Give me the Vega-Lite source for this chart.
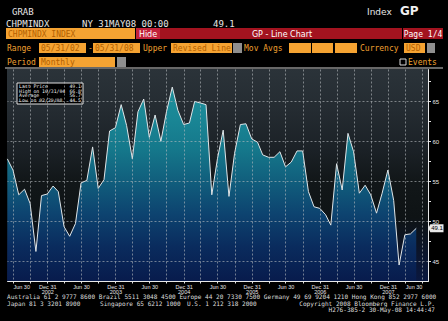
{
  "$schema": "https://vega.github.io/schema/vega-lite/v6.json",
  "width": 421,
  "height": 212,
  "autosize": {"type": "none"},
  "padding": {"left": 7, "top": 69, "right": 20, "bottom": 40},
  "background": "#000000",
  "config": {
    "view": {"stroke": "#c8c8c8", "strokeWidth": 1}
  },
  "data": {"values": [
    {"date": "2002-05-31", "value": 57.8},
    {"date": "2002-06-30", "value": 56.4},
    {"date": "2002-07-31", "value": 53.3},
    {"date": "2002-08-31", "value": 54.0},
    {"date": "2002-09-30", "value": 52.2},
    {"date": "2002-10-31", "value": 46.2},
    {"date": "2002-11-30", "value": 53.2},
    {"date": "2002-12-31", "value": 53.4},
    {"date": "2003-01-31", "value": 54.4},
    {"date": "2003-02-28", "value": 53.7},
    {"date": "2003-03-31", "value": 49.3},
    {"date": "2003-04-30", "value": 48.1},
    {"date": "2003-05-31", "value": 49.7},
    {"date": "2003-06-30", "value": 54.8},
    {"date": "2003-07-31", "value": 55.1},
    {"date": "2003-08-31", "value": 59.3},
    {"date": "2003-09-30", "value": 54.1},
    {"date": "2003-10-31", "value": 55.2},
    {"date": "2003-11-30", "value": 61.3},
    {"date": "2003-12-31", "value": 61.7},
    {"date": "2004-01-31", "value": 64.6},
    {"date": "2004-02-29", "value": 62.0},
    {"date": "2004-03-31", "value": 57.8},
    {"date": "2004-04-30", "value": 63.7},
    {"date": "2004-05-31", "value": 65.3},
    {"date": "2004-06-30", "value": 60.5},
    {"date": "2004-07-31", "value": 63.3},
    {"date": "2004-08-31", "value": 60.0},
    {"date": "2004-09-30", "value": 63.7},
    {"date": "2004-10-31", "value": 66.8},
    {"date": "2004-11-30", "value": 63.9},
    {"date": "2004-12-31", "value": 62.1},
    {"date": "2005-01-31", "value": 62.3},
    {"date": "2005-02-28", "value": 65.0},
    {"date": "2005-03-31", "value": 64.8},
    {"date": "2005-04-30", "value": 64.6},
    {"date": "2005-05-31", "value": 53.3},
    {"date": "2005-06-30", "value": 57.8},
    {"date": "2005-07-31", "value": 61.4},
    {"date": "2005-08-31", "value": 53.1},
    {"date": "2005-09-30", "value": 58.5},
    {"date": "2005-10-31", "value": 62.1},
    {"date": "2005-11-30", "value": 62.2},
    {"date": "2005-12-31", "value": 60.3},
    {"date": "2006-01-31", "value": 59.9},
    {"date": "2006-02-28", "value": 58.3},
    {"date": "2006-03-31", "value": 58.0},
    {"date": "2006-04-30", "value": 58.0},
    {"date": "2006-05-31", "value": 58.7},
    {"date": "2006-06-30", "value": 56.8},
    {"date": "2006-07-31", "value": 57.4},
    {"date": "2006-08-31", "value": 58.8},
    {"date": "2006-09-30", "value": 58.8},
    {"date": "2006-10-31", "value": 53.7},
    {"date": "2006-11-30", "value": 51.8},
    {"date": "2006-12-31", "value": 51.6},
    {"date": "2007-01-31", "value": 50.8},
    {"date": "2007-02-28", "value": 49.5},
    {"date": "2007-03-31", "value": 57.2},
    {"date": "2007-04-30", "value": 53.9},
    {"date": "2007-05-31", "value": 61.0},
    {"date": "2007-06-30", "value": 58.7},
    {"date": "2007-07-31", "value": 53.5},
    {"date": "2007-08-31", "value": 54.5},
    {"date": "2007-09-30", "value": 53.3},
    {"date": "2007-10-31", "value": 51.0},
    {"date": "2007-11-30", "value": 53.5},
    {"date": "2007-12-31", "value": 56.4},
    {"date": "2008-01-31", "value": 52.6},
    {"date": "2008-02-29", "value": 44.5},
    {"date": "2008-03-31", "value": 48.3},
    {"date": "2008-04-30", "value": 48.4},
    {"date": "2008-05-31", "value": 49.1}
  ]},
  "layer": [
    {
      "encoding": {
        "x": {"field": "date", "type": "temporal",
          "scale": {"domain": [{"year": 2002, "month": 5, "date": 29, "utc": true}, {"year": 2008, "month": 8, "date": 2, "utc": true}], "nice": false},
          "axis": {
            "orient": "bottom", "title": null, "zindex": 1,
            "values": [
              {"year": 2002, "month": 6, "date": 30, "utc": true}, {"year": 2002, "month": 9, "date": 30, "utc": true}, {"year": 2002, "month": 12, "date": 31, "utc": true},
              {"year": 2003, "month": 3, "date": 31, "utc": true}, {"year": 2003, "month": 6, "date": 30, "utc": true}, {"year": 2003, "month": 9, "date": 30, "utc": true}, {"year": 2003, "month": 12, "date": 31, "utc": true},
              {"year": 2004, "month": 3, "date": 31, "utc": true}, {"year": 2004, "month": 6, "date": 30, "utc": true}, {"year": 2004, "month": 9, "date": 30, "utc": true}, {"year": 2004, "month": 12, "date": 31, "utc": true},
              {"year": 2005, "month": 3, "date": 31, "utc": true}, {"year": 2005, "month": 6, "date": 30, "utc": true}, {"year": 2005, "month": 9, "date": 30, "utc": true}, {"year": 2005, "month": 12, "date": 31, "utc": true},
              {"year": 2006, "month": 3, "date": 31, "utc": true}, {"year": 2006, "month": 6, "date": 30, "utc": true}, {"year": 2006, "month": 9, "date": 30, "utc": true}, {"year": 2006, "month": 12, "date": 31, "utc": true},
              {"year": 2007, "month": 3, "date": 31, "utc": true}, {"year": 2007, "month": 6, "date": 30, "utc": true}, {"year": 2007, "month": 9, "date": 30, "utc": true}, {"year": 2007, "month": 12, "date": 31, "utc": true},
              {"year": 2008, "month": 3, "date": 31, "utc": true}, {"year": 2008, "month": 6, "date": 30, "utc": true}
            ],
            "labelExpr": "utcmonth(datum.value) == 5 ? 'Jun 30' : (utcmonth(datum.value) == 11 ? ['Dec 31', utcFormat(datum.value, '%Y')] : '')",
            "grid": true, "gridColor": "#b8bcc0", "gridDash": [2, 2], "gridWidth": 1, "gridOpacity": 0.6,
            "tickSize": 2, "tickColor": "#e0e0e0", "domainColor": "#e8e8e8",
            "labelColor": "#e6e6e6", "labelFont": "Liberation Sans", "labelFontSize": 5.5, "labelPadding": 1,
            "labelLineHeight": 5, "labelOverlap": false, "labelFlush": 8
          }
        },
        "y": {"field": "value", "type": "quantitative",
          "scale": {"domain": [42.5, 69.0625], "nice": false, "zero": false},
          "axis": {
            "orient": "right", "title": null, "zindex": 1,
            "values": [45, 47.5, 50, 52.5, 55, 57.5, 60, 62.5, 65, 67.5],
            "labelExpr": "datum.value % 5 === 0 ? datum.label : ''",
            "grid": true, "gridColor": "#b8bcc0", "gridDash": [2, 2], "gridWidth": 1,
            "gridOpacity": {"condition": {"test": "datum.value % 5 !== 0", "value": 0}, "value": 0.6},
            "tickSize": 2.5, "tickColor": "#e0e0e0", "domainColor": "#e8e8e8",
            "labelColor": "#e6e6e6", "labelFont": "Liberation Sans", "labelFontSize": 6, "labelPadding": 1.5, "labelOverlap": false
          }
        }
      },
      "layer": [
        {
          "mark": {"type": "rect", "color": {"gradient": "linear", "x1": 0, "y1": 0, "x2": 0, "y2": 1, "stops": [
            {"offset": 0, "color": "#2b3339"},
            {"offset": 0.2, "color": "#242b31"},
            {"offset": 0.4, "color": "#1a2025"},
            {"offset": 0.52, "color": "#121719"},
            {"offset": 0.7, "color": "#0e1315"},
            {"offset": 0.82, "color": "#0c1424"},
            {"offset": 1, "color": "#0a1840"}
          ]}},
          "transform": [{"filter": "datum.value === 49.1"}],
          "encoding": {
            "x": {"datum": {"year": 2002, "month": 5, "date": 29, "utc": true}},
            "x2": {"datum": {"year": 2008, "month": 8, "date": 2, "utc": true}},
            "y": {"datum": 69.0625},
            "y2": {"datum": 42.5}
          }
        },
        {
          "mark": {"type": "area", "opacity": 1, "color": {"gradient": "linear", "x1": 0, "y1": 0, "x2": 0, "y2": 1, "stops": [
            {"offset": 0, "color": "#1d8f9b"},
            {"offset": 0.15, "color": "#1a8796"},
            {"offset": 0.32, "color": "#15788b"},
            {"offset": 0.48, "color": "#115f7d"},
            {"offset": 0.65, "color": "#0d4470"},
            {"offset": 0.82, "color": "#0a2c5e"},
            {"offset": 1, "color": "#081b4c"}
          ]}},
          "encoding": {"y2": {"datum": 42.5}}
        },
        {
          "mark": {"type": "line", "color": "#dfe5e8", "strokeWidth": 1}
        },
        {
          "transform": [{"filter": "datum.value === 49.1"}],
          "mark": {"type": "point", "shape": "M-1,0L-0.75,-0.5L0.9,-0.5L0.9,0.5L-0.75,0.5Z", "size": 256, "filled": true, "color": "#e8e8e8", "opacity": 1},
          "encoding": {"x": {"value": 429.3}}
        },
        {
          "transform": [{"filter": "datum.value === 49.1"}],
          "mark": {"type": "text", "align": "center", "baseline": "middle", "font": "Liberation Sans", "fontSize": 6, "color": "#000000"},
          "encoding": {"x": {"value": 430}, "text": {"field": "value", "type": "quantitative", "format": ".1f"}}
        }
      ]
    },

    {"data": {"values": [{}]}, "mark": {"type": "rect", "x": -2, "x2": 436, "y": -1.5, "y2": -0.5, "fill": "#d0d0d0"}},
    {"data": {"values": [{}]}, "mark": {"type": "rect", "x": -1, "x2": 128, "y": -41, "y2": -30, "fill": "#f5a332"}},
    {"data": {"values": [{}]}, "mark": {"type": "rect", "x": 129, "x2": 153, "y": -41, "y2": -30, "fill": "#c3213a"}},
    {"data": {"values": [{}]}, "mark": {"type": "rect", "x": 153, "x2": 395, "y": -41, "y2": -30, "fill": "#a3131f"}},
    {"data": {"values": [{}]}, "mark": {"type": "rect", "x": 396, "x2": 436, "y": -41, "y2": -30, "fill": "#a3131f"}},
    {"data": {"values": [{}]}, "mark": {"type": "rect", "x": 32, "x2": 79, "y": -26, "y2": -16, "fill": "#f5a332"}},
    {"data": {"values": [{}]}, "mark": {"type": "rect", "x": 86, "x2": 133, "y": -26, "y2": -16, "fill": "#f5a332"}},
    {"data": {"values": [{}]}, "mark": {"type": "rect", "x": 164, "x2": 225, "y": -26, "y2": -16, "fill": "#f5a332"}},
    {"data": {"values": [{}]}, "mark": {"type": "rect", "x": 226, "x2": 235, "y": -26, "y2": -16, "fill": "#8f8f8f"}},
    {"data": {"values": [{}]}, "mark": {"type": "rect", "x": 282, "x2": 304, "y": -26, "y2": -16, "fill": "#f5a332"}},
    {"data": {"values": [{}]}, "mark": {"type": "rect", "x": 305, "x2": 326, "y": -26, "y2": -16, "fill": "#f5a332"}},
    {"data": {"values": [{}]}, "mark": {"type": "rect", "x": 328, "x2": 350, "y": -26, "y2": -16, "fill": "#f5a332"}},
    {"data": {"values": [{}]}, "mark": {"type": "rect", "x": 397, "x2": 418, "y": -26, "y2": -16, "fill": "#f5a332"}},
    {"data": {"values": [{}]}, "mark": {"type": "rect", "x": 420, "x2": 428, "y": -26, "y2": -16, "fill": "#8f8f8f"}},
    {"data": {"values": [{}]}, "mark": {"type": "rect", "x": 32, "x2": 108, "y": -12, "y2": -2, "fill": "#f5a332"}},
    {"data": {"values": [{}]}, "mark": {"type": "rect", "x": 110, "x2": 119, "y": -12, "y2": -2, "fill": "#8f8f8f"}},
    {"data": {"values": [{}]}, "mark": {"type": "rect", "x": 393, "x2": 399, "y": -10, "y2": -4, "fill": "#000000", "stroke": "#d8d8d8", "strokeWidth": 1}},
    {"data": {"values": [{}]}, "mark": {"type": "rect", "x": 10, "x2": 76, "y": 14, "y2": 35, "fill": "#000000", "stroke": "#e0e0e0", "strokeWidth": 1}},

    {"data": {"values": [{}]}, "mark": {"type": "text", "x": 5, "y": -54, "text": "GRAB", "align": "left", "baseline": "alphabetic", "font": "DejaVu Sans Mono", "fontSize": 9, "fill": "#e6e6e6"}},
    {"data": {"values": [{}]}, "mark": {"type": "text", "x": -1, "y": -42, "text": "CHPMINDX", "align": "left", "baseline": "alphabetic", "font": "DejaVu Sans Mono", "fontSize": 9, "fill": "#e6e6e6"}},
    {"data": {"values": [{}]}, "mark": {"type": "text", "x": 75, "y": -42, "text": "NY 31MAY08 00:00", "align": "left", "baseline": "alphabetic", "font": "DejaVu Sans Mono", "fontSize": 9, "fill": "#e6e6e6"}},
    {"data": {"values": [{}]}, "mark": {"type": "text", "x": 206, "y": -42, "text": "49.1", "align": "left", "baseline": "alphabetic", "font": "DejaVu Sans Mono", "fontSize": 9, "fill": "#e6e6e6"}},
    {"data": {"values": [{}]}, "mark": {"type": "text", "x": 360, "y": -54, "text": "Index", "align": "left", "baseline": "alphabetic", "font": "DejaVu Sans", "fontSize": 9, "fill": "#e6e6e6"}},
    {"data": {"values": [{}]}, "mark": {"type": "text", "x": 393, "y": -54, "text": "GP", "align": "left", "baseline": "alphabetic", "font": "DejaVu Sans", "fontWeight": "bold", "fontSize": 12, "fill": "#f0f0f0"}},

    {"data": {"values": [{}]}, "mark": {"type": "text", "x": 1, "y": -32, "text": "CHPMINDX INDEX", "align": "left", "baseline": "alphabetic", "font": "DejaVu Sans Mono", "fontSize": 8, "fill": "#b36000"}},
    {"data": {"values": [{}]}, "mark": {"type": "text", "x": 141, "y": -32, "text": "Hide", "align": "center", "baseline": "alphabetic", "font": "DejaVu Sans", "fontSize": 8, "fill": "#ffffff"}},
    {"data": {"values": [{}]}, "mark": {"type": "text", "x": 275, "y": -32, "text": "GP - Line Chart", "align": "center", "baseline": "alphabetic", "font": "DejaVu Sans", "fontSize": 8, "fill": "#ffffff"}},
    {"data": {"values": [{}]}, "mark": {"type": "text", "x": 416, "y": -32, "text": "Page 1/4", "align": "center", "baseline": "alphabetic", "font": "DejaVu Sans Mono", "fontSize": 8, "fill": "#ffffff"}},

    {"data": {"values": [{}]}, "mark": {"type": "text", "x": 0, "y": -18, "text": "Range", "align": "left", "baseline": "alphabetic", "font": "DejaVu Sans Mono", "fontSize": 8, "fill": "#f0a030"}},
    {"data": {"values": [{}]}, "mark": {"type": "text", "x": 34, "y": -18, "text": "05/31/02", "align": "left", "baseline": "alphabetic", "font": "DejaVu Sans Mono", "fontSize": 8, "fill": "#b36000"}},
    {"data": {"values": [{}]}, "mark": {"type": "text", "x": 81, "y": -18, "text": "-", "align": "left", "baseline": "alphabetic", "font": "DejaVu Sans Mono", "fontSize": 8, "fill": "#f0a030"}},
    {"data": {"values": [{}]}, "mark": {"type": "text", "x": 88, "y": -18, "text": "05/31/08", "align": "left", "baseline": "alphabetic", "font": "DejaVu Sans Mono", "fontSize": 8, "fill": "#b36000"}},
    {"data": {"values": [{}]}, "mark": {"type": "text", "x": 136, "y": -18, "text": "Upper", "align": "left", "baseline": "alphabetic", "font": "DejaVu Sans Mono", "fontSize": 8, "fill": "#f0a030"}},
    {"data": {"values": [{}]}, "mark": {"type": "text", "x": 166, "y": -18, "text": "Revised Line", "align": "left", "baseline": "alphabetic", "font": "DejaVu Sans Mono", "fontSize": 8, "fill": "#b36000"}},
    {"data": {"values": [{}]}, "mark": {"type": "text", "x": 237, "y": -18, "text": "Mov Avgs", "align": "left", "baseline": "alphabetic", "font": "DejaVu Sans Mono", "fontSize": 8, "fill": "#f0a030"}},
    {"data": {"values": [{}]}, "mark": {"type": "text", "x": 353, "y": -18, "text": "Currency", "align": "left", "baseline": "alphabetic", "font": "DejaVu Sans Mono", "fontSize": 8, "fill": "#f0a030"}},
    {"data": {"values": [{}]}, "mark": {"type": "text", "x": 399, "y": -18, "text": "USD", "align": "left", "baseline": "alphabetic", "font": "DejaVu Sans Mono", "fontSize": 8, "fill": "#b36000"}},
    {"data": {"values": [{}]}, "mark": {"type": "text", "x": 0, "y": -4, "text": "Period", "align": "left", "baseline": "alphabetic", "font": "DejaVu Sans Mono", "fontSize": 8, "fill": "#f0a030"}},
    {"data": {"values": [{}]}, "mark": {"type": "text", "x": 34, "y": -4, "text": "Monthly", "align": "left", "baseline": "alphabetic", "font": "DejaVu Sans Mono", "fontSize": 8, "fill": "#b36000"}},
    {"data": {"values": [{}]}, "mark": {"type": "text", "x": 401, "y": -4, "text": "Events", "align": "left", "baseline": "alphabetic", "font": "DejaVu Sans Mono", "fontSize": 8, "fill": "#f0a030"}},

    {"data": {"values": [{}]}, "mark": {"type": "text", "x": 12, "y": 19, "text": "Last Price", "align": "left", "baseline": "alphabetic", "font": "DejaVu Sans Mono", "fontSize": 4.8, "fill": "#f0f0f0"}},
    {"data": {"values": [{}]}, "mark": {"type": "text", "x": 12, "y": 23.7, "text": "High on 10/31/04", "align": "left", "baseline": "alphabetic", "font": "DejaVu Sans Mono", "fontSize": 4.8, "fill": "#f0f0f0"}},
    {"data": {"values": [{}]}, "mark": {"type": "text", "x": 12, "y": 28.4, "text": "Average", "align": "left", "baseline": "alphabetic", "font": "DejaVu Sans Mono", "fontSize": 4.8, "fill": "#f0f0f0"}},
    {"data": {"values": [{}]}, "mark": {"type": "text", "x": 12, "y": 33.1, "text": "Low on 02/29/08", "align": "left", "baseline": "alphabetic", "font": "DejaVu Sans Mono", "fontSize": 4.8, "fill": "#f0f0f0"}},
    {"data": {"values": [{}]}, "mark": {"type": "text", "x": 74, "y": 19, "text": "49.1", "align": "right", "baseline": "alphabetic", "font": "DejaVu Sans Mono", "fontSize": 4.8, "fill": "#f0f0f0"}},
    {"data": {"values": [{}]}, "mark": {"type": "text", "x": 74, "y": 23.7, "text": "66.8", "align": "right", "baseline": "alphabetic", "font": "DejaVu Sans Mono", "fontSize": 4.8, "fill": "#f0f0f0"}},
    {"data": {"values": [{}]}, "mark": {"type": "text", "x": 74, "y": 28.4, "text": "56.7", "align": "right", "baseline": "alphabetic", "font": "DejaVu Sans Mono", "fontSize": 4.8, "fill": "#f0f0f0"}},
    {"data": {"values": [{}]}, "mark": {"type": "text", "x": 74, "y": 33.1, "text": "44.5", "align": "right", "baseline": "alphabetic", "font": "DejaVu Sans Mono", "fontSize": 4.8, "fill": "#f0f0f0"}},

    {"data": {"values": [{}]}, "mark": {"type": "text", "x": 0, "y": 230, "text": "Australia 61 2 9777 8600 Brazil 5511 3048 4500 Europe 44 20 7330 7500 Germany 49 69 9204 1210 Hong Kong 852 2977 6000", "align": "left", "baseline": "alphabetic", "font": "DejaVu Sans Mono", "fontSize": 6.1, "fill": "#dcdcdc"}},
    {"data": {"values": [{}]}, "mark": {"type": "text", "x": 0, "y": 236.5, "text": "Japan 81 3 3201 8900", "align": "left", "baseline": "alphabetic", "font": "DejaVu Sans Mono", "fontSize": 6.1, "fill": "#dcdcdc"}},
    {"data": {"values": [{}]}, "mark": {"type": "text", "x": 93, "y": 236.5, "text": "Singapore 65 6212 1000", "align": "left", "baseline": "alphabetic", "font": "DejaVu Sans Mono", "fontSize": 6.1, "fill": "#dcdcdc"}},
    {"data": {"values": [{}]}, "mark": {"type": "text", "x": 180, "y": 236.5, "text": "U.S. 1 212 318 2000", "align": "left", "baseline": "alphabetic", "font": "DejaVu Sans Mono", "fontSize": 6.1, "fill": "#dcdcdc"}},
    {"data": {"values": [{}]}, "mark": {"type": "text", "x": 428, "y": 236.5, "text": "Copyright 2008 Bloomberg Finance L.P.", "align": "right", "baseline": "alphabetic", "font": "DejaVu Sans Mono", "fontSize": 6.1, "fill": "#dcdcdc"}},
    {"data": {"values": [{}]}, "mark": {"type": "text", "x": 428, "y": 243, "text": "H276-385-2 30-May-08 14:44:47", "align": "right", "baseline": "alphabetic", "font": "DejaVu Sans Mono", "fontSize": 6.1, "fill": "#dcdcdc"}}
  ]
}
